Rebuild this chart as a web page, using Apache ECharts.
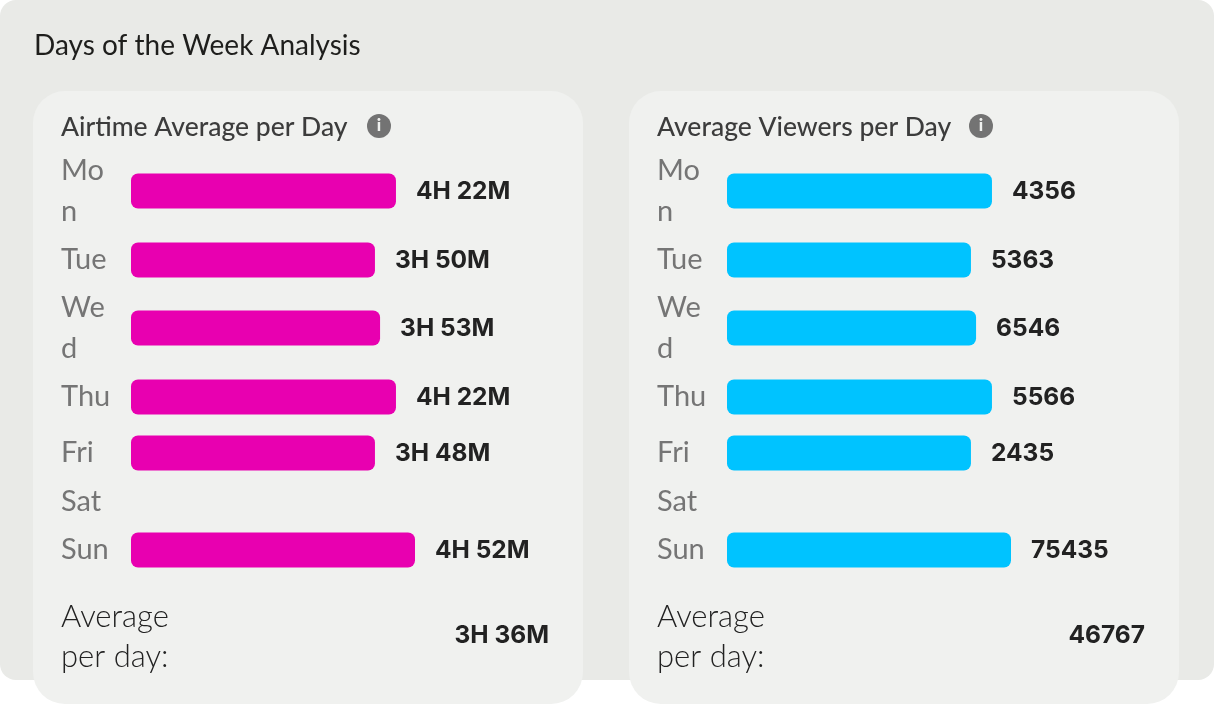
<!DOCTYPE html>
<html>
<head>
<meta charset="utf-8">
<style>html,body{margin:0;padding:0;background:#fff}#c{width:1214px;height:704px}</style>
<script src="https://cdn.jsdelivr.net/npm/echarts@6/dist/echarts.min.js"></script>
</head>
<body>
<div id="c"></div>
<script>
const days = ['Mon','Tue','Wed','Thu','Fri','Sat','Sun'];
const barShare = [93.3, 85.9, 87.7, 93.3, 85.9, null, 100];
const airtimeLabels = ['4H 22M','3H 50M','3H 53M','4H 22M','3H 48M','','4H 52M'];
const viewerLabels = ['4356','5363','6546','5566','2435','','75435'];
const panelTitles = ['Airtime Average per Day','Average Viewers per Day'];
const averages = ['3H 36M','46767'];
const mainTitle = 'Days of the Week Analysis';
const avgCaption = 'Average\nper day:';

const FONT = 'Lato';
const NUMFONT = 'Inter';
const rowCenters = [191,260,328,397,453,502,550];
const panels = [
  {x:33, color:'#e800b0', labels:airtimeLabels, titleIdx:0, iconX:379},
  {x:629, color:'#00c3ff', labels:viewerLabels, titleIdx:1, iconX:981}
];
const grid=[], xAxis=[], yAxis=[], series=[];
const graphic=[
  {type:'rect',z:-10,shape:{x:0,y:0,width:1214,height:680,r:16},style:{fill:'#e9eae7'}}
];
panels.forEach((p,pi)=>{
  graphic.push({type:'rect',z:-9,shape:{x:p.x+24,y:688,width:502,height:16,r:8},style:{fill:'#ffffff',shadowColor:'#ffffff',shadowBlur:22}});
  graphic.push({type:'rect',z:-8,shape:{x:p.x,y:91,width:550,height:613,r:32},style:{fill:'#f0f1ef'}});
  graphic.push({type:'text',z:5,x:p.x+28,y:127,style:{text:panelTitles[p.titleIdx],font:'500 26.5px '+FONT,fill:'#3c3c3c',verticalAlign:'middle'}});
  graphic.push({type:'circle',z:5,shape:{cx:p.iconX,cy:126,r:12},style:{fill:'#737373'}});
  graphic.push({type:'text',z:6,x:p.iconX,y:126,style:{text:'i',font:'900 17px '+FONT,fill:'#f0f1ef',align:'center',verticalAlign:'middle'}});
  graphic.push({type:'text',z:5,x:p.x+28,y:637,style:{text:avgCaption,font:'300 31px '+FONT,lineHeight:40,fill:'#222222',verticalAlign:'middle'}});
  graphic.push({type:'text',z:5,x:p.x+516,y:636,style:{text:averages[pi],font:'700 24.5px '+NUMFONT,fill:'#222222',align:'right',verticalAlign:'middle'}});
  days.forEach((d,i)=>{
    const g=grid.length;
    grid.push({left:p.x+98,width:284,top:rowCenters[i]-17.5,height:35});
    xAxis.push({type:'value',gridIndex:g,min:0,max:100,show:false});
    yAxis.push({type:'category',gridIndex:g,data:[d],axisLine:{show:false},axisTick:{show:false},
      axisLabel:{align:'left',margin:70,width:50,overflow:'breakAll',lineHeight:41,
        fontFamily:FONT,fontSize:29,color:'#757575'}});
    series.push({type:'bar',xAxisIndex:g,yAxisIndex:g,data:[barShare[i]],barWidth:35,silent:true,
      itemStyle:{color:p.color,borderRadius:7},
      label:{show:true,position:'right',distance:20,offset:[0,1],formatter:()=>p.labels[i],
        fontFamily:NUMFONT,fontSize:24.5,fontWeight:700,color:'#222222'}});
  });
});
graphic.push({type:'text',z:5,x:34,y:46,style:{text:mainTitle,font:'400 28px '+FONT,fill:'#1e1e1c',verticalAlign:'middle'}});
const chart=echarts.init(document.getElementById('c'));
chart.setOption({animation:false,backgroundColor:'#ffffff',grid,xAxis,yAxis,series,graphic});
</script>
</body>
</html>
